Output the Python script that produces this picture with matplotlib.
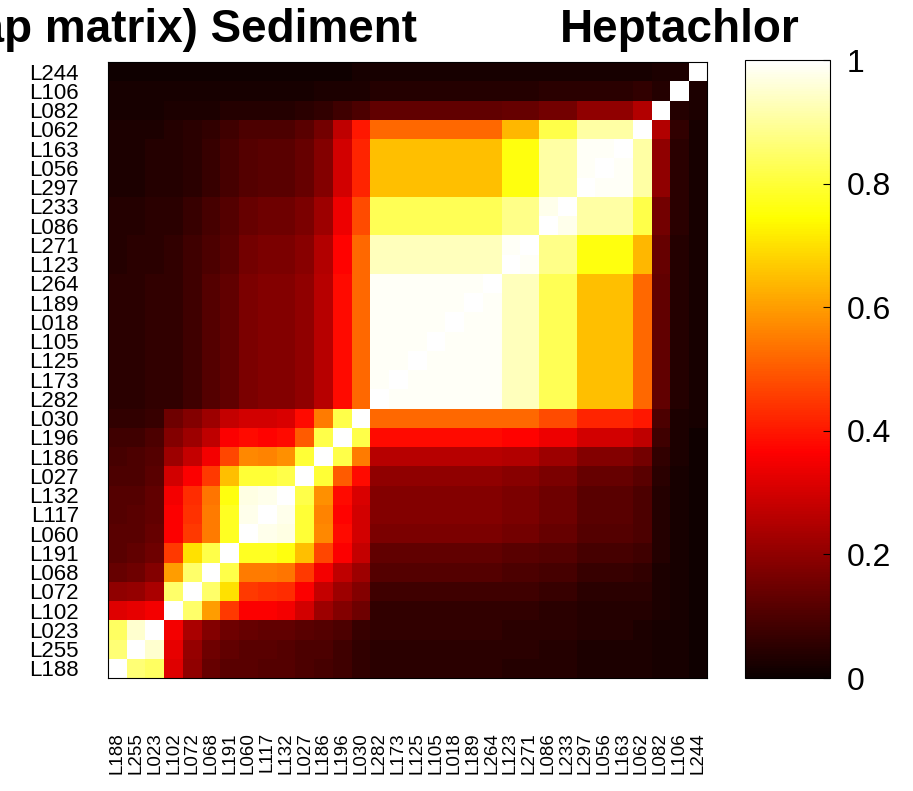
import numpy as np
import matplotlib
matplotlib.use("Agg")
import matplotlib.pyplot as plt

plt.rcParams['font.family'] = ['Liberation Sans', 'DejaVu Sans']

labels = ["L188", "L255", "L023", "L102", "L072", "L068", "L191", "L060",
          "L117", "L132", "L027", "L186", "L196", "L030", "L282", "L173",
          "L125", "L105", "L018", "L189", "L264", "L123", "L271", "L086",
          "L233", "L297", "L056", "L163", "L062", "L082", "L106", "L244"]

title_left = "(Heatmap matrix) Sediment"
title_right = "Heptachlor"
cbar_ticks = [0, 0.2, 0.4, 0.6, 0.8, 1]
cbar_ticklabels = ["0", "0.2", "0.4", "0.6", "0.8", "1"]

# upper triangle of the symmetric matrix (row i holds columns i..31)
upper = [
    [1.00, 0.86, 0.84, 0.32, 0.20, 0.14, 0.12, 0.12, 0.11, 0.11, 0.10, 0.09, 0.08, 0.06,
     0.05, 0.05, 0.05, 0.05, 0.05, 0.05, 0.05, 0.04, 0.04, 0.04, 0.04, 0.03, 0.03, 0.03, 0.03,
     0.02, 0.02, 0.01],
    [1.00, 0.95, 0.33, 0.21, 0.15, 0.13, 0.12, 0.12, 0.11, 0.10, 0.10, 0.08, 0.06,
     0.05, 0.05, 0.05, 0.05, 0.05, 0.05, 0.05, 0.05, 0.05, 0.04, 0.04, 0.03, 0.03, 0.03, 0.03,
     0.02, 0.02, 0.01],
    [1.00, 0.35, 0.24, 0.18, 0.15, 0.14, 0.13, 0.13, 0.12, 0.11, 0.10, 0.07,
     0.06, 0.06, 0.06, 0.06, 0.06, 0.06, 0.06, 0.05, 0.05, 0.05, 0.05, 0.04, 0.04, 0.04, 0.03,
     0.02, 0.02, 0.01],
    [1.00, 0.85, 0.60, 0.45, 0.36, 0.36, 0.35, 0.30, 0.22, 0.18, 0.15,
     0.06, 0.06, 0.06, 0.06, 0.06, 0.06, 0.06, 0.06, 0.06, 0.05, 0.05, 0.04, 0.04, 0.04, 0.04,
     0.03, 0.02, 0.01],
    [1.00, 0.85, 0.70, 0.45, 0.44, 0.43, 0.36, 0.28, 0.22, 0.18,
     0.08, 0.08, 0.08, 0.08, 0.08, 0.08, 0.08, 0.08, 0.08, 0.07, 0.07, 0.05, 0.05, 0.05, 0.05,
     0.03, 0.02, 0.01],
    [1.00, 0.82, 0.55, 0.55, 0.54, 0.45, 0.35, 0.27, 0.22,
     0.11, 0.11, 0.11, 0.11, 0.11, 0.11, 0.11, 0.10, 0.10, 0.09, 0.09, 0.07, 0.07, 0.07, 0.06,
     0.03, 0.02, 0.01],
    [1.00, 0.78, 0.78, 0.76, 0.65, 0.47, 0.36, 0.28,
     0.13, 0.13, 0.13, 0.13, 0.13, 0.13, 0.13, 0.12, 0.12, 0.11, 0.11, 0.09, 0.09, 0.09, 0.08,
     0.04, 0.02, 0.01],
    [1.00, 0.98, 0.97, 0.80, 0.57, 0.38, 0.30,
     0.17, 0.17, 0.17, 0.17, 0.17, 0.17, 0.17, 0.16, 0.16, 0.14, 0.14, 0.11, 0.11, 0.11, 0.10,
     0.04, 0.02, 0.01],
    [1.00, 0.98, 0.80, 0.56, 0.37, 0.30,
     0.18, 0.18, 0.18, 0.18, 0.18, 0.18, 0.18, 0.17, 0.17, 0.15, 0.15, 0.12, 0.12, 0.12, 0.10,
     0.04, 0.02, 0.01],
    [1.00, 0.82, 0.58, 0.38, 0.31,
     0.18, 0.18, 0.18, 0.18, 0.18, 0.18, 0.18, 0.17, 0.17, 0.15, 0.15, 0.12, 0.12, 0.12, 0.10,
     0.04, 0.02, 0.01],
    [1.00, 0.80, 0.50, 0.38,
     0.20, 0.20, 0.20, 0.20, 0.20, 0.20, 0.20, 0.19, 0.19, 0.17, 0.17, 0.14, 0.14, 0.14, 0.12,
     0.05, 0.02, 0.01],
    [1.00, 0.82, 0.55,
     0.26, 0.26, 0.26, 0.26, 0.26, 0.26, 0.26, 0.25, 0.25, 0.22, 0.22, 0.18, 0.18, 0.18, 0.16,
     0.06, 0.03, 0.01],
    [1.00, 0.82,
     0.38, 0.38, 0.38, 0.38, 0.38, 0.38, 0.38, 0.37, 0.37, 0.34, 0.34, 0.30, 0.30, 0.30, 0.27,
     0.08, 0.03, 0.01],
    [1.00,
     0.52, 0.52, 0.52, 0.52, 0.52, 0.52, 0.52, 0.52, 0.52, 0.48, 0.48, 0.42, 0.42, 0.42, 0.40,
     0.10, 0.03, 0.02],
    [1.00, 0.99, 0.99, 0.99, 0.99, 0.99, 0.99, 0.93, 0.93, 0.83, 0.83, 0.65, 0.65, 0.65, 0.52,
     0.13, 0.04, 0.02],
    [1.00, 0.99, 0.99, 0.99, 0.99, 0.99, 0.93, 0.93, 0.83, 0.83, 0.65, 0.65, 0.65, 0.52,
     0.13, 0.04, 0.02],
    [1.00, 0.99, 0.99, 0.99, 0.99, 0.93, 0.93, 0.83, 0.83, 0.65, 0.65, 0.65, 0.52,
     0.13, 0.04, 0.02],
    [1.00, 0.99, 0.99, 0.99, 0.93, 0.93, 0.83, 0.83, 0.65, 0.65, 0.65, 0.52,
     0.13, 0.04, 0.02],
    [1.00, 0.99, 0.99, 0.93, 0.93, 0.83, 0.83, 0.65, 0.65, 0.65, 0.52,
     0.13, 0.04, 0.02],
    [1.00, 0.99, 0.93, 0.93, 0.83, 0.83, 0.65, 0.65, 0.65, 0.52,
     0.13, 0.04, 0.02],
    [1.00, 0.93, 0.93, 0.83, 0.83, 0.65, 0.65, 0.65, 0.52,
     0.13, 0.04, 0.02],
    [1.00, 0.99, 0.88, 0.88, 0.76, 0.76, 0.76, 0.64, 0.14, 0.04, 0.02],
    [1.00, 0.88, 0.88, 0.76, 0.76, 0.76, 0.64, 0.14, 0.04, 0.02],
    [1.00, 0.98, 0.91, 0.91, 0.91, 0.82, 0.16, 0.05, 0.02],
    [1.00, 0.91, 0.91, 0.91, 0.82, 0.16, 0.05, 0.02],
    [1.00, 0.99, 0.99, 0.91, 0.20, 0.05, 0.02],
    [1.00, 0.99, 0.91, 0.20, 0.05, 0.02],
    [1.00, 0.91, 0.20, 0.05, 0.02],
    [1.00, 0.25, 0.06, 0.02],
    [1.00, 0.04, 0.03],
    [1.00, 0.03],
    [1.00],
]

n = len(labels)
M = np.zeros((n, n))
for i, row in enumerate(upper):
    assert len(row) == n - i, (i, len(row))
    M[i, i:] = row
M = M + np.triu(M, 1).T

W, H = 913, 791
fig = plt.figure(figsize=(W / 100, H / 100), dpi=100)

ax = fig.add_axes([108 / W, 1 - 678 / H, (707 - 108) / W, (678 - 62) / H])
im = ax.imshow(M, cmap='hot', vmin=0, vmax=1, origin='lower',
               aspect='auto', interpolation='nearest')
ax.set_xticks(range(n))
ax.set_xticklabels(labels, rotation=90, fontsize=13.5)
ax.set_yticks(range(n))
ax.set_yticklabels(labels, fontsize=16)
ax.tick_params(axis='y', length=0, pad=21)
ax.tick_params(axis='x', length=0, pad=39)
for s in ax.spines.values():
    s.set_linewidth(0.8)
    s.set_color('black')

cax = fig.add_axes([745 / W, 1 - 678 / H, (830 - 745) / W, (678 - 60) / H])
cb = fig.colorbar(im, cax=cax)
cb.set_ticks(cbar_ticks)
cb.set_ticklabels(cbar_ticklabels)
cax.tick_params(direction='in', length=5, width=0.8, labelsize=23, pad=12)
cb.outline.set_linewidth(0.8)

fig.text(417 / W, 1 - 42 / H, title_left, ha='right', va='baseline',
         fontsize=33, fontweight='bold')
fig.text(560 / W, 1 - 42 / H, title_right, ha='left', va='baseline',
         fontsize=33, fontweight='bold')

fig.savefig("out.png", dpi=100)
